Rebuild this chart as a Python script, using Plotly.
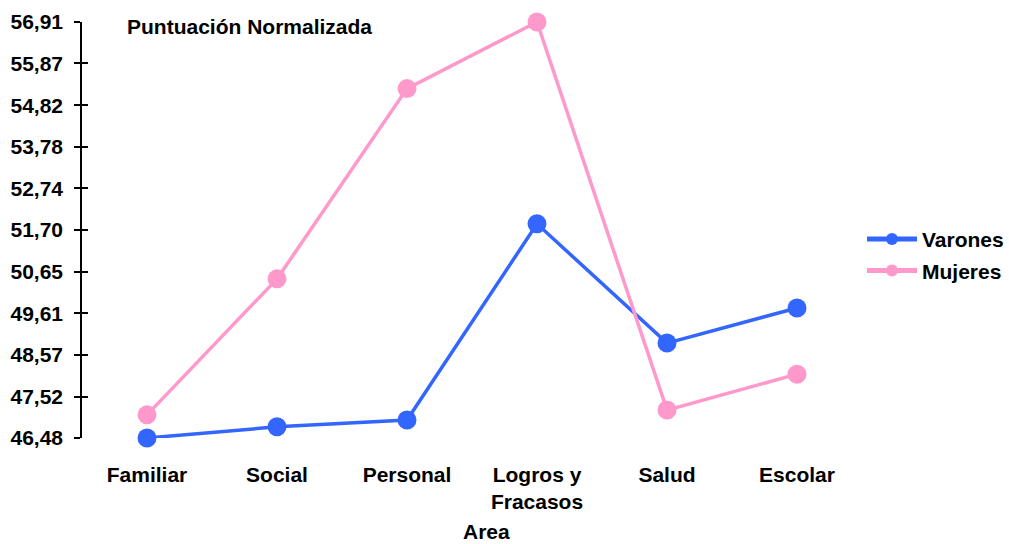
import plotly.graph_objects as go

# Data
areas = ["Familiar", "Social", "Personal", "Logros y<br>Fracasos", "Salud", "Escolar"]
varones = [46.48, 46.76, 46.93, 51.85, 48.86, 49.74]
mujeres = [47.06, 50.47, 55.24, 56.91, 47.18, 48.08]
y_ticks = [46.48, 47.52, 48.57, 49.61, 50.65, 51.70, 52.74, 53.78, 54.82, 55.87, 56.91]
y_labels = ["46,48", "47,52", "48,57", "49,61", "50,65", "51,70",
            "52,74", "53,78", "54,82", "55,87", "56,91"]

font_family = "Liberation Sans, Arial, sans-serif"
y_range = [46.48, 56.91]

fig = go.Figure()
fig.add_trace(go.Scatter(x=areas, y=varones, name="Varones", mode="lines+markers",
                         legendgroup="v",
                         line=dict(color="#3366FF", width=3.5),
                         marker=dict(size=19, color="#3366FF"), cliponaxis=False))
fig.add_trace(go.Scatter(x=areas, y=mujeres, name="Mujeres", mode="lines+markers",
                         legendgroup="m",
                         line=dict(color="#FF99CC", width=3.5),
                         marker=dict(size=19, color="#FF99CC"), cliponaxis=False))
# invisible helper so the overlay axis (inner half of the tick marks) gets drawn
fig.add_trace(go.Scatter(x=[areas[0]], y=[y_ticks[0]], yaxis="y2", mode="markers",
                         marker=dict(opacity=0), showlegend=False, hoverinfo="skip"))

fig.update_layout(
    width=1009, height=544,
    margin=dict(l=82, r=147, t=22, b=106, autoexpand=False),
    paper_bgcolor="white", plot_bgcolor="white",
    font=dict(family=font_family, size=21, color="black", weight="bold"),
    showlegend=True,
    legend=dict(x=1.0, y=0.44, xanchor="left", yanchor="middle",
                font=dict(size=21, weight="bold"), itemsizing="constant",
                traceorder="grouped", tracegroupgap=1, itemwidth=50),
    yaxis2=dict(overlaying="y", side="left", range=y_range, tickvals=y_ticks,
                showticklabels=False, ticks="inside", ticklen=6, tickcolor="black",
                tickwidth=1.5, showgrid=False, zeroline=False, showline=False),
)
fig.add_annotation(text="Puntuación Normalizada", xref="paper", yref="paper",
                   x=(125 - 82) / 780, y=(438 - 27) / 416, xanchor="left", yanchor="middle",
                   showarrow=False, font=dict(size=21, weight="bold"))
# axis title placed like the original (slightly right of centre)
fig.add_annotation(text="Area", xref="paper", yref="paper",
                   x=(486 - 82) / 780, y=(438 - 531) / 416, xanchor="center", yanchor="middle",
                   showarrow=False, font=dict(size=21, weight="bold"))

fig.update_xaxes(range=[-0.5, 5.5], showline=False, showgrid=False, zeroline=False,
                 ticks="", ticklabelstandoff=22, tickfont=dict(size=21), automargin=False)
fig.update_layout(yaxis=dict(range=y_range, tickvals=y_ticks, ticktext=y_labels,
                             showline=True, linecolor="black", linewidth=1.5,
                             ticks="outside", ticklen=6, tickcolor="black", tickwidth=1.5,
                             ticklabelstandoff=7, showgrid=False, zeroline=False,
                             tickfont=dict(size=21), automargin=False))

fig.write_html("out.html", config={"displayModeBar": False},
               post_script="document.body.style.margin='0';")
